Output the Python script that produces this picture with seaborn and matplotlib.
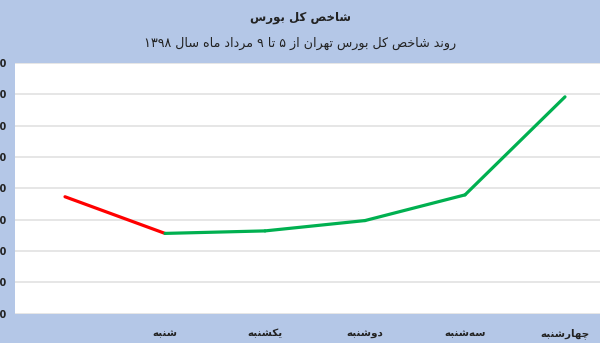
import matplotlib
matplotlib.use("Agg")
import matplotlib.pyplot as plt
import seaborn as sns
import pandas as pd

# ---------------- data ----------------
days = ["", "شنبه", "یکشنبه", "دوشنبه", "سه‌شنبه", "چهارشنبه"]
index_values = [271460, 269120, 269280, 269940, 271580, 277840]
y_ticks = [264000, 266000, 268000, 270000, 272000, 274000, 276000, 278000, 280000]
title = "شاخص کل بورس"
subtitle = "روند شاخص کل بورس تهران از ۵ تا ۹ مرداد ماه سال ۱۳۹۸"

# ---------------- minimal Persian shaping ----------------
FORMS = {
    "ش": (0xFEB5, 0xFEB6, 0xFEB7, 0xFEB8),
    "ا": (0xFE8D, 0xFE8E),
    "خ": (0xFEA5, 0xFEA6, 0xFEA7, 0xFEA8),
    "ص": (0xFEB9, 0xFEBA, 0xFEBB, 0xFEBC),
    "ک": (0xFB8E, 0xFB8F, 0xFB90, 0xFB91),
    "ل": (0xFEDD, 0xFEDE, 0xFEDF, 0xFEE0),
    "ب": (0xFE8F, 0xFE90, 0xFE91, 0xFE92),
    "و": (0xFEED, 0xFEEE),
    "ر": (0xFEAD, 0xFEAE),
    "س": (0xFEB1, 0xFEB2, 0xFEB3, 0xFEB4),
    "ن": (0xFEE5, 0xFEE6, 0xFEE7, 0xFEE8),
    "د": (0xFEA9, 0xFEAA),
    "ت": (0xFE95, 0xFE96, 0xFE97, 0xFE98),
    "ه": (0xFEE9, 0xFEEA, 0xFEEB, 0xFEEC),
    "ز": (0xFEAF, 0xFEB0),
    "م": (0xFEE1, 0xFEE2, 0xFEE3, 0xFEE4),
    "ی": (0xFBFC, 0xFBFD, 0xFBFE, 0xFBFF),
    "ج": (0xFE9D, 0xFE9E, 0xFE9F, 0xFEA0),
    "چ": (0xFB7A, 0xFB7B, 0xFB7C, 0xFB7D),
}
DIGITS = set("۰۱۲۳۴۵۶۷۸۹0123456789")


def shape(text):
    chars = list(text)
    out = []
    for i, c in enumerate(chars):
        if c == "\u200c":
            continue
        if c not in FORMS:
            out.append(c)
            continue
        prev = chars[i - 1] if i > 0 else None
        nxt = chars[i + 1] if i + 1 < len(chars) else None
        jp = prev in FORMS and len(FORMS[prev]) == 4
        jn = len(FORMS[c]) == 4 and nxt in FORMS
        f = FORMS[c]
        if jp and jn:
            g = f[3]
        elif jp:
            g = f[1]
        elif jn:
            g = f[2]
        else:
            g = f[0]
        out.append(chr(g))
    out = out[::-1]
    res, run = [], []
    for c in out:
        if c in DIGITS:
            run.append(c)
        else:
            res.extend(run[::-1]); run = []
            res.append(c)
    res.extend(run[::-1])
    return "".join(res)


# ---------------- build segments ----------------
rows = []
for i in range(len(index_values) - 1):
    d = "down" if index_values[i + 1] < index_values[i] else "up"
    for j in (i, i + 1):
        rows.append({"pos": j, "value": index_values[j], "dir": d, "seg": i})
df = pd.DataFrame(rows)

sns.set_theme(style="white")
plt.rcParams["font.family"] = ["DejaVu Sans"]

bg = "#b4c7e7"
fig = plt.figure(figsize=(6.0, 3.43), dpi=100, facecolor=bg)
ax = fig.add_axes([15 / 600, (343 - 313.6) / 343, 600 / 600, (313.6 - 63) / 343])
ax.set_facecolor("white")

sns.lineplot(data=df, x="pos", y="value", hue="dir", units="seg", estimator=None,
             palette={"down": "#ff0000", "up": "#00b050"}, linewidth=2.3,
             legend=False, sort=False, ax=ax)

ax.set_xlim(-0.5, len(days) - 0.5)
ax.set_ylim(y_ticks[0], y_ticks[-1])
ax.set_yticks(y_ticks)
ax.set_yticklabels([f"{v:,}" for v in y_ticks], fontsize=7, fontweight="bold", color="#222222")
ax.set_xticks(range(len(days)))
ax.set_xticklabels([shape(d) for d in days], fontsize=7.5, fontweight="bold", color="#222222")
for lab in ax.get_xticklabels():
    lab.set_verticalalignment("baseline")
ax.tick_params(axis="y", length=0, pad=6)
ax.tick_params(axis="x", length=0, pad=16.5)
ax.set_xlabel("")
ax.set_ylabel("")
ax.grid(axis="y", color="#e2e2e2", linewidth=1.2)
ax.set_axisbelow(True)
for s in ax.spines.values():
    s.set_visible(False)

fig.text(0.5, 1 - 18 / 343, shape(title), ha="center", va="center", fontsize=8.5,
         fontweight="bold", color="#222222")
fig.text(0.5, 1 - 43 / 343, shape(subtitle), ha="center", va="center", fontsize=9.1,
         color="#222222")

fig.savefig("out.png", dpi=100, facecolor=bg)
